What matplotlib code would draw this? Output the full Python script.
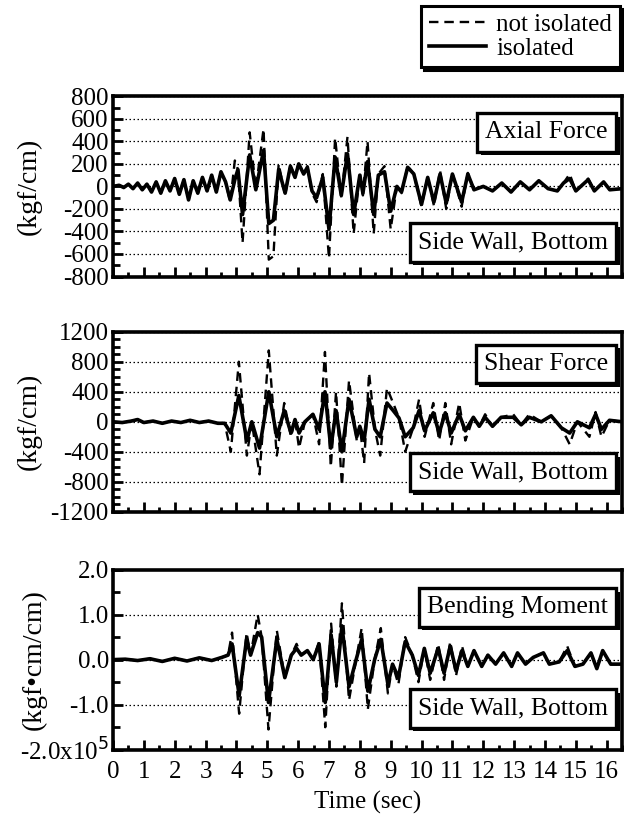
import numpy as np
import matplotlib
matplotlib.use("Agg")
import matplotlib.pyplot as plt
import matplotlib.patheffects as pe
from matplotlib.ticker import MultipleLocator

plt.rcParams['font.family'] = ['Liberation Serif', 'DejaVu Serif']
plt.rcParams['axes.unicode_minus'] = False

# Axial force (kgf/cm), read at turning points
t_axial = [0.0, 0.2, 0.35, 0.5, 0.65, 0.8, 0.95, 1.1, 1.25, 1.4, 1.55, 1.7, 1.85, 2.0, 2.15,
           2.3, 2.45, 2.6, 2.75, 2.9, 3.05, 3.2, 3.35, 3.5, 3.65, 3.8, 3.95, 4.05, 4.2, 4.43,
           4.63, 4.88, 5.05, 5.2, 5.37, 5.58, 5.75, 5.9, 6.02, 6.18, 6.3, 6.45, 6.6, 6.8, 7.0,
           7.2, 7.4, 7.6, 7.8, 8.0, 8.1, 8.25, 8.45, 8.6, 8.8, 9.0, 9.2, 9.35, 9.55, 9.75,
           10.0, 10.2, 10.4, 10.6, 10.8, 11.0, 11.3, 11.5, 11.7, 12.0, 12.3, 12.6, 12.9, 13.2,
           13.5, 13.8, 14.1, 14.4, 14.6, 14.8, 15.0, 15.2, 15.4, 15.6, 15.9, 16.1, 16.5]
axial_iso = [0, 10, -10, 20, -20, 30, -30, 20, -50, 40, -60, 50, -40, 70, -70,
             60, -120, 50, -60, 80, -40, 100, -50, 130, 40, -120, 60, 150, -250, 280,
             -30, 320, -330, -300, 150, -60, 180, 80, 200, 110, 170, -40, -100, 80, -380,
             260, -80, 290, -250, 100, -60, 220, -250, 100, 130, -220, 0, -50, 170, 110,
             -160, 80, -140, 110, -150, 110, -140, 110, -30, 0, -40, 30, -50, 40,
             -30, 50, -20, -40, 30, 70, -40, 10, 60, -40, 40, -30, -20]
axial_not = [0, 10, -10, 20, -20, 30, -30, 20, -50, 40, -60, 50, -40, 70, -70,
             60, -120, 50, -60, 80, -40, 100, -50, 130, 40, -140, 230, 150, -500, 480,
             -20, 510, -650, -620, 200, -80, 190, 80, 210, 110, 180, -60, -140, 110, -640,
             430, -100, 440, -420, 120, -80, 400, -420, 110, 180, -380, 0, -60, 180, 110,
             -180, 90, -170, 140, -200, 120, -180, 120, -30, 0, -40, 30, -50, 40,
             -30, 50, -20, -40, 30, 110, -40, 10, 70, -40, 40, -30, -20]

# Shear force (kgf/cm)
t_shear = [0.0, 0.3, 0.6, 0.8, 1.0, 1.3, 1.6, 1.9, 2.2, 2.5, 2.8, 3.1, 3.4, 3.62, 3.82,
           4.08, 4.34, 4.5, 4.75, 5.05, 5.31, 5.55, 5.77, 5.9, 6.03, 6.22, 6.48, 6.68, 6.87,
           7.06, 7.23, 7.42, 7.65, 7.9, 8.0, 8.14, 8.3, 8.49, 8.66, 8.88, 9.08, 9.27, 9.47,
           9.73, 9.92, 10.1, 10.38, 10.57, 10.77, 10.96, 11.22, 11.42, 11.68, 11.87, 12.06,
           12.3, 12.58, 12.97, 13.23, 13.49, 13.88, 14.2, 14.53, 14.8, 15.05, 15.44, 15.64,
           15.83, 16.09, 16.5]
shear_iso = [0, -10, 10, 30, -10, 10, -20, 10, -10, 20, -10, 10, -20, -20, -150,
             350, -250, 0, -350, 400, -200, 150, -150, 30, -150, 0, 100, -100, 400,
             -350, 150, -400, 300, -200, -60, -250, 300, -100, -200, 250, 150, 50, -200,
             -80, 150, -120, 120, -150, 120, -150, 100, -120, 60, -60, 60,
             -60, 60, 60, -40, 60, 0, 80, -80, -150, 0, -80, 100,
             -100, 20, 0]
shear_not = [0, -10, 10, 30, -10, 10, -20, 10, -10, 20, -10, 10, -20, -20, -400,
             800, -450, 0, -700, 950, -450, 250, -200, 30, -350, 0, 100, -300, 930,
             -600, 400, -850, 550, -250, -60, -550, 650, -100, -450, 450, 250, 50, -400,
             -80, 300, -200, 250, -250, 250, -300, 250, -250, 60, -60, 100,
             -60, 60, 100, -40, 100, 0, 80, -80, -300, 0, -200, 130,
             -200, 20, 0]

# Bending moment (x10^5 kgf*cm/cm)
t_bend = [0.0, 0.4, 0.8, 1.2, 1.6, 2.0, 2.4, 2.8, 3.2, 3.53, 3.73, 3.86, 4.09, 4.33,
          4.46, 4.69, 4.82, 5.04, 5.31, 5.57, 5.78, 5.95, 6.1, 6.3, 6.49, 6.68, 6.88,
          7.07, 7.24, 7.42, 7.65, 7.88, 8.06, 8.26, 8.48, 8.68, 8.91, 9.06, 9.25, 9.47,
          9.7, 9.9, 10.09, 10.28, 10.54, 10.73, 10.93, 11.12, 11.31, 11.5, 11.7, 11.95,
          12.15, 12.4, 12.66, 12.92, 13.11, 13.37, 13.62, 13.95, 14.14, 14.46, 14.72,
          14.97, 15.23, 15.49, 15.68, 15.87, 16.13, 16.5]
bend_iso = [0.0, 0.01, -0.02, 0.02, -0.04, 0.03, -0.03, 0.04, -0.02, 0.05, 0.1, 0.35, -0.8, 0.45,
            0.1, 0.6, 0.5, -0.95, 0.45, -0.4, 0.1, 0.25, 0.1, 0.2, 0.0, 0.35, -0.95,
            0.55, -0.5, 0.75, -0.6, 0.0, 0.45, -0.7, 0.0, 0.45, -0.55, -0.1, -0.4, 0.4,
            0.1, -0.35, 0.25, -0.3, 0.25, -0.3, 0.3, -0.25, 0.2, -0.15, 0.2, -0.15,
            0.1, -0.1, 0.15, -0.15, 0.15, -0.1, 0.05, 0.15, -0.1, -0.05, 0.2,
            -0.15, -0.1, 0.15, -0.2, 0.2, -0.1, -0.1]
bend_not = [0.0, 0.01, -0.02, 0.02, -0.04, 0.03, -0.03, 0.04, -0.02, 0.05, 0.1, 0.6, -1.2, 0.6,
            0.1, 1.0, 0.5, -1.55, 0.65, -0.4, 0.1, 0.35, 0.1, 0.2, 0.0, 0.4, -1.5,
            0.8, -0.6, 1.25, -0.9, 0.0, 0.7, -1.1, 0.0, 0.7, -0.75, -0.1, -0.55, 0.5,
            0.1, -0.5, 0.25, -0.45, 0.35, -0.45, 0.4, -0.35, 0.3, -0.15, 0.2, -0.15,
            0.1, -0.1, 0.15, -0.15, 0.15, -0.1, 0.05, 0.15, -0.1, -0.05, 0.3,
            -0.15, -0.1, 0.15, -0.2, 0.2, -0.1, -0.1]

x_ticks = list(range(0, 17))

panels = [
    dict(t=t_axial, iso=axial_iso, nis=axial_not, ylim=(-800, 800), major=200, minor=100,
         ticklabels=None, ylabel='(kgf/cm)', lx=-0.14, title='Axial Force', ty=0.80, sy=0.19,
         rect=[0.181, 0.664, 0.816, 0.219]),
    dict(t=t_shear, iso=shear_iso, nis=shear_not, ylim=(-1200, 1200), major=400, minor=100,
         ticklabels=None, ylabel='(kgf/cm)', lx=-0.14, title='Shear Force', ty=0.82, sy=0.22,
         rect=[0.181, 0.378, 0.816, 0.219]),
    dict(t=t_bend, iso=bend_iso, nis=bend_not, ylim=(-2.0, 2.0), major=1.0, minor=0.5,
         ticklabels=['-2.0x10$^5$', '-1.0', '0.0', '1.0', '2.0'],
         ylabel='(kgf\u2022cm/cm)', lx=-0.13, title='Bending Moment', ty=0.79, sy=0.23,
         rect=[0.181, 0.089, 0.816, 0.219]),
]

fig = plt.figure(figsize=(6.24, 8.23), dpi=100)

for i, p in enumerate(panels):
    ax = fig.add_axes(p['rect'])
    l1, = ax.plot(p['t'], p['nis'], color='black', lw=1.7, ls=(0, (4, 2.5)),
                  label='not isolated', zorder=3)
    l2, = ax.plot(p['t'], p['iso'], color='black', lw=2.6, label='isolated', zorder=4)
    ax.set_xlim(0, 16.5)
    ax.set_ylim(*p['ylim'])
    ax.set_xticks(x_ticks)
    ax.xaxis.set_minor_locator(MultipleLocator(0.5))
    ax.yaxis.set_major_locator(MultipleLocator(p['major']))
    ax.yaxis.set_minor_locator(MultipleLocator(p['minor']))
    ax.tick_params(which='major', direction='in', length=7.5, width=2, labelsize=18, pad=3)
    ax.tick_params(which='minor', direction='in', length=3.5, width=2)
    ax.tick_params(axis='y', which='minor', length=5)
    ax.tick_params(axis='x', which='major', pad=8)
    ax.tick_params(top=False, right=False, which='both')
    if p['ticklabels']:
        ax.set_yticks(np.linspace(p['ylim'][0], p['ylim'][1], 5))
        ax.set_yticklabels(p['ticklabels'])
    if i < 2:
        ax.set_xticklabels([])
    else:
        ax.set_xlabel('Time (sec)', fontsize=18, labelpad=6)
    for s in ax.spines.values():
        s.set_linewidth(2.6)
    for yv in ax.get_yticks()[1:-1]:
        ax.axhline(yv, color='black', lw=0.9, ls=(0, (1.2, 2)), zorder=1)
    ax.set_ylabel(p['ylabel'], fontsize=20)
    ax.yaxis.set_label_coords(p['lx'], 0.5)
    for txt, yy in ((p['title'], p['ty']), ('Side Wall, Bottom', p['sy'])):
        t = ax.text(0.972, yy, txt, transform=ax.transAxes, ha='right', va='center',
                    fontsize=18.5, zorder=6,
                    bbox=dict(boxstyle='square,pad=0.32', fc='white', ec='black', lw=2.4))
        t.get_bbox_patch().set_path_effects(
            [pe.SimplePatchShadow(offset=(2.5, -2.5), shadow_rgbFace='black', alpha=1),
             pe.Normal()])

leg = fig.legend(handles=[l1, l2], loc='upper right', bbox_to_anchor=(0.993, 0.993),
                 borderaxespad=0, fontsize=18, handlelength=2.3, handletextpad=0.4,
                 borderpad=0.3, labelspacing=0.05, fancybox=False, edgecolor='black',
                 framealpha=1, shadow={'color': 'black', 'alpha': 1})
leg.get_frame().set_linewidth(2.2)

fig.savefig('out.png', dpi=100)
